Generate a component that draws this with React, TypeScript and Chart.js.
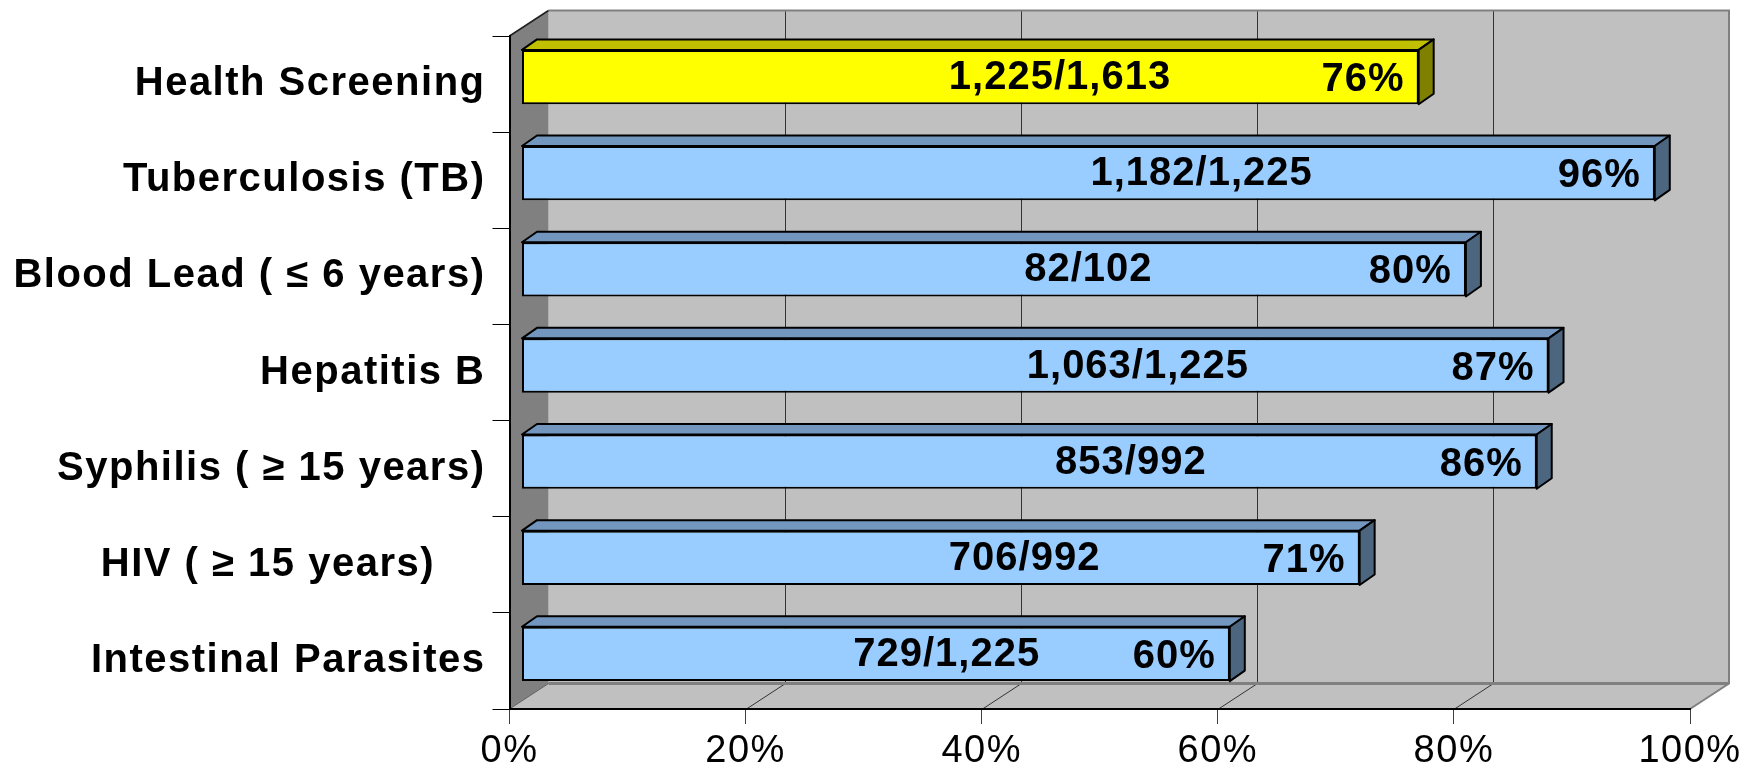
import React, { useEffect, useRef } from "react";
import { Chart, registerables } from "chart.js";

Chart.register(...registerables);

// ---- data ----
const categories = [
  "Health Screening",
  "Tuberculosis (TB)",
  "Blood Lead ( ≤ 6 years)",
  "Hepatitis B",
  "Syphilis ( ≥ 15 years)",
  "HIV ( ≥ 15 years)    ",
  "Intestinal Parasites",
];
const percentValues = [76, 96, 80, 87, 86, 71, 60];
const numerators = [1225, 1182, 82, 1063, 853, 706, 729];
const denominators = [1613, 1225, 102, 1225, 992, 992, 1225];
const xTickValues = [0, 20, 40, 60, 80, 100];

// ---- style / geometry ----
const FONT = '"Liberation Sans", Arial, Helvetica, sans-serif';
const DX = 39; // depth of the 3D box
const DY = -25.5;
const BAR_DX = 12; // bar front plane offset
const BAR_DY = -7;
const SIDE_DX = 15; // bar depth
const SIDE_DY = -10.5;

const fmt = (n: number) => n.toLocaleString("en-US");

const threeD = {
  id: "threeD",
  beforeDraw(chart: any) {
    const { ctx, chartArea } = chart;
    const { left: L, right: R, top: T, bottom: B } = chartArea;
    const xs = chart.scales.x;
    ctx.save();
    // back wall
    ctx.fillStyle = "#C0C0C0";
    ctx.fillRect(L + DX, T + DY, R - L, B - T);
    // floor
    ctx.beginPath();
    ctx.moveTo(L, B);
    ctx.lineTo(R, B);
    ctx.lineTo(R + DX, B + DY);
    ctx.lineTo(L + DX, B + DY);
    ctx.closePath();
    ctx.fill();
    // grid lines on back wall and floor
    ctx.strokeStyle = "#333333";
    ctx.lineWidth = 1;
    xTickValues.forEach((v) => {
      if (v === xTickValues[0] || v === xTickValues[xTickValues.length - 1]) return;
      const px = Math.round(xs.getPixelForValue(v)) + 0.5;
      ctx.beginPath();
      ctx.moveTo(px + DX, T + DY);
      ctx.lineTo(px + DX, B + DY);
      ctx.stroke();
      ctx.beginPath();
      ctx.moveTo(px, B);
      ctx.lineTo(px + DX, B + DY);
      ctx.stroke();
    });
    // back wall edges
    ctx.strokeStyle = "#808080";
    ctx.lineWidth = 2;
    ctx.beginPath();
    ctx.moveTo(L + DX, T + DY);
    ctx.lineTo(R + DX, T + DY);
    ctx.lineTo(R + DX, B + DY);
    ctx.lineTo(R, B);
    ctx.stroke();
    ctx.lineWidth = 3;
    ctx.beginPath();
    ctx.moveTo(L + DX, B + DY);
    ctx.lineTo(R + DX, B + DY);
    ctx.stroke();
    // left wall
    ctx.fillStyle = "#808080";
    ctx.beginPath();
    ctx.moveTo(L, T);
    ctx.lineTo(L + DX, T + DY);
    ctx.lineTo(L + DX, B + DY);
    ctx.lineTo(L, B);
    ctx.closePath();
    ctx.fill();
    ctx.strokeStyle = "#202020";
    ctx.lineWidth = 1.5;
    ctx.beginPath();
    ctx.moveTo(L, T);
    ctx.lineTo(L + DX, T + DY);
    ctx.stroke();
    ctx.strokeStyle = "#606060";
    ctx.lineWidth = 1;
    ctx.beginPath();
    ctx.moveTo(L, B);
    ctx.lineTo(L + DX, B + DY);
    ctx.stroke();
    ctx.restore();
    ctx.letterSpacing = "1.5px";
  },
  beforeDatasetsDraw(chart: any) {
    chart.ctx.save();
    chart.ctx.translate(BAR_DX, BAR_DY);
  },
  afterDatasetsDraw(chart: any) {
    const { ctx } = chart;
    const meta = chart.getDatasetMeta(0);
    meta.data.forEach((bar: any, i: number) => {
      const { x, y, base, height } = bar.getProps(["x", "y", "base", "height"], true);
      const top = y - height / 2;
      const bottom = y + height / 2;
      const isFirst = i === 0;
      ctx.save();
      ctx.strokeStyle = "#000";
      ctx.lineWidth = 2;
      ctx.lineJoin = "round";
      // top face
      ctx.fillStyle = isFirst ? "#C0C000" : "#7396BF";
      ctx.beginPath();
      ctx.moveTo(base, top);
      ctx.lineTo(base + SIDE_DX, top + SIDE_DY);
      ctx.lineTo(x + SIDE_DX, top + SIDE_DY);
      ctx.lineTo(x, top);
      ctx.closePath();
      ctx.fill();
      ctx.stroke();
      // side face
      ctx.fillStyle = isFirst ? "#808000" : "#4D6680";
      ctx.beginPath();
      ctx.moveTo(x, top);
      ctx.lineTo(x + SIDE_DX, top + SIDE_DY);
      ctx.lineTo(x + SIDE_DX, bottom + SIDE_DY);
      ctx.lineTo(x, bottom);
      ctx.closePath();
      ctx.fill();
      ctx.stroke();
      // labels
      ctx.fillStyle = "#000";
      ctx.font = `bold 40px ${FONT}`;
      ctx.letterSpacing = "1px";
      ctx.textBaseline = "middle";
      ctx.textAlign = "center";
      ctx.fillText(`${fmt(numerators[i])}/${fmt(denominators[i])}`, base + (x - base) * 0.6, y + 1);
      ctx.textAlign = "right";
      ctx.fillText(`${percentValues[i]}%`, x - 14, y + 3);
      ctx.restore();
    });
    ctx.restore();
  },
};

export default function App() {
  const canvasRef = useRef<HTMLCanvasElement | null>(null);

  useEffect(() => {
    if (!canvasRef.current) return;
    Chart.defaults.font.family = FONT;
    const chart = new Chart(canvasRef.current, {
      type: "bar",
      data: {
        labels: categories,
        datasets: [
          {
            data: percentValues,
            backgroundColor: categories.map((_, i) => (i === 0 ? "#FFFF00" : "#99CCFF")),
            borderColor: "#000",
            borderWidth: 2,
            borderSkipped: false,
            barPercentage: 0.565,
            categoryPercentage: 1,
            clip: false,
          } as any,
        ],
      },
      options: {
        indexAxis: "y",
        responsive: false,
        animation: false,
        layout: { padding: { top: 36, right: 65, left: 0, bottom: 0 } },
        plugins: { legend: { display: false }, tooltip: { enabled: false } },
        scales: {
          x: {
            type: "linear",
            min: 0,
            max: 100,
            afterBuildTicks: (s: any) => {
              s.ticks = xTickValues.map((v) => ({ value: v }));
            },
            ticks: {
              callback: (v: any) => `${v}%`,
              color: "#000",
              font: { family: FONT, size: 38 },
              padding: 5,
              maxRotation: 0,
              autoSkip: false,
            },
            grid: { drawOnChartArea: false, drawTicks: true, tickLength: 15, color: "#404040", lineWidth: 1 },
            border: { display: true, color: "#000", width: 2 },
            afterFit: (s: any) => {
              s.height = 60;
            },
          },
          y: {
            type: "category",
            ticks: { color: "#000", font: { family: FONT, size: 40, weight: "bold" }, padding: 7, autoSkip: false },
            grid: { offset: true, drawOnChartArea: false, drawTicks: true, tickLength: 17, color: "#000", lineWidth: 1 },
            border: { display: true, color: "#000", width: 2 },
            afterFit: (s: any) => {
              s.width = 509.5;
            },
          },
        },
      } as any,
      plugins: [threeD],
    });
    return () => chart.destroy();
  }, []);

  return (
    <div style={{ position: "absolute", left: 0, top: 0, width: 1755, height: 769, background: "#fff" }}>
      <canvas ref={canvasRef} width={1755} height={769} style={{ display: "block" }} />
    </div>
  );
}
